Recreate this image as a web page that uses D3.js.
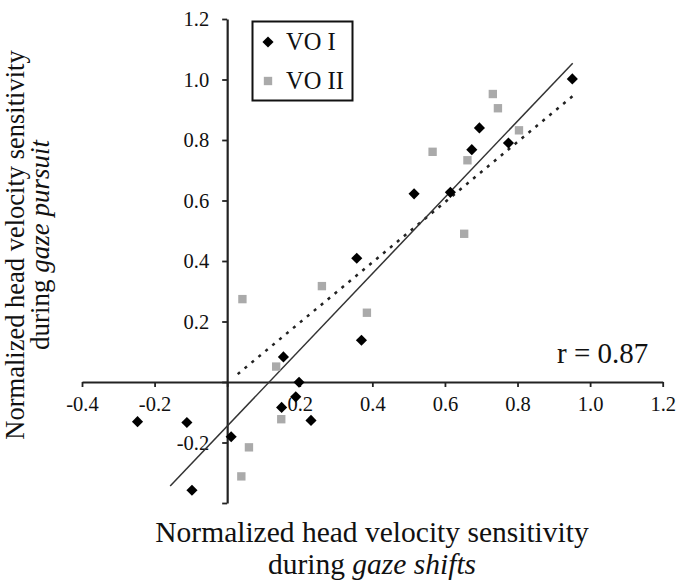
<!DOCTYPE html>
<html>
<head>
<meta charset="utf-8">
<script src="https://cdn.jsdelivr.net/npm/d3@7"></script>
<style>
  html, body { margin: 0; padding: 0; background: #fff; }
  svg { display: block; }
  text { font-family: "Liberation Serif", "Times New Roman", serif; fill: #111; }
</style>
</head>
<body>
<svg id="chart" width="681" height="585"></svg>
<script>
// ---- Data ----
const voIX = [0.951, 0.695, 0.775, 0.674, 0.515, 0.615, 0.357, 0.370, 0.155, 0.198, 0.189, 0.150, 0.231, -0.247, -0.111, 0.011, -0.097];
const voIY = [1.002, 0.840, 0.790, 0.768, 0.622, 0.627, 0.409, 0.138, 0.083, -0.001, -0.049, -0.084, -0.127, -0.131, -0.134, -0.181, -0.358];
const voIIX = [0.732, 0.746, 0.804, 0.662, 0.566, 0.653, 0.385, 0.261, 0.042, 0.135, 0.149, 0.060, 0.039];
const voIIY = [0.952, 0.905, 0.832, 0.733, 0.761, 0.490, 0.229, 0.317, 0.274, 0.051, -0.123, -0.216, -0.312];
const fitLineX = [-0.157, 0.952];
const fitLineY = [-0.344, 1.054];
const dottedLineX = [0.029, 0.963];
const dottedLineY = [0.026, 0.956];
const xTicks = [-0.4, -0.2, 0, 0.2, 0.4, 0.6, 0.8, 1.0, 1.2];
const yTicks = [-0.4, -0.2, 0, 0.2, 0.4, 0.6, 0.8, 1.0, 1.2];
const xTickLabels = ["-0.4", "-0.2", "", "0.2", "0.4", "0.6", "0.8", "1.0", "1.2"];
const yTickLabels = ["", "-0.2", "", "0.2", "0.4", "0.6", "0.8", "1.0", "1.2"];
const legendLabels = ["VO I", "VO II"];
const rLabel = "r = 0.87";

// ---- Scales ----
const svg = d3.select("#chart");
const x = d3.scaleLinear().domain([-0.4, 1.2]).range([82, 662.7]);
const y = d3.scaleLinear().domain([-0.4, 1.2]).range([503, 19]);

// ---- Axes (crossing at origin) ----
const xAxis = d3.axisBottom(x).tickValues(xTicks)
  .tickFormat((d, i) => xTickLabels[i]).tickSize(5).tickPadding(9).tickSizeOuter(0);
const gx = svg.append("g").attr("transform", `translate(0,${y(0)})`).call(xAxis);
gx.select(".domain").attr("stroke", "#222").attr("stroke-width", 2.2);
gx.selectAll(".tick line").attr("stroke", "#222").attr("stroke-width", 1.8);
gx.selectAll(".tick text").attr("font-size", 20.5).attr("font-family", "Liberation Serif").attr("fill", "#111");

const yAxis = d3.axisLeft(y).tickValues(yTicks)
  .tickFormat((d, i) => yTickLabels[i]).tickSize(5).tickPadding(13).tickSizeOuter(0);
const gy = svg.append("g").attr("transform", `translate(${x(0)},0)`).call(yAxis);
gy.select(".domain").attr("stroke", "#222").attr("stroke-width", 2.2);
gy.selectAll(".tick line").attr("stroke", "#222").attr("stroke-width", 1.8);
gy.selectAll(".tick text").attr("font-size", 20.5).attr("font-family", "Liberation Serif").attr("fill", "#111");

// ---- Lines ----
const line = d3.line().x(d => x(d[0])).y(d => y(d[1]));
svg.append("path")
  .datum(dottedLineX.map((v, i) => [v, dottedLineY[i]]))
  .attr("d", line).attr("fill", "none").attr("stroke", "#222")
  .attr("stroke-width", 2.5).attr("stroke-dasharray", "3,6");
svg.append("path")
  .datum(fitLineX.map((v, i) => [v, fitLineY[i]]))
  .attr("d", line).attr("fill", "none").attr("stroke", "#333").attr("stroke-width", 1.5);

// ---- Points ----
const diamond = d3.symbol().type(d3.symbolSquare).size(62);
const square = d3.symbol().type(d3.symbolSquare).size(70);

svg.append("g").selectAll("path")
  .data(voIIX.map((v, i) => [v, voIIY[i]]))
  .join("path")
  .attr("d", square)
  .attr("transform", d => `translate(${x(d[0])},${y(d[1])})`)
  .attr("fill", "#aaaaaa");

svg.append("g").selectAll("path")
  .data(voIX.map((v, i) => [v, voIY[i]]))
  .join("path")
  .attr("d", diamond)
  .attr("transform", d => `translate(${x(d[0])},${y(d[1])}) rotate(45)`)
  .attr("fill", "#000");

// ---- r label ----
svg.append("text").attr("x", 557).attr("y", 363)
  .attr("font-size", 29).text(rLabel);

// ---- Legend ----
const lg = svg.append("g");
lg.append("rect").attr("x", 252.5).attr("y", 21.5).attr("width", 100).attr("height", 79)
  .attr("fill", "#fff").attr("stroke", "#111").attr("stroke-width", 2);
lg.append("path").attr("d", diamond).attr("transform", "translate(268,42) rotate(45)").attr("fill", "#000");
lg.append("path").attr("d", square).attr("transform", "translate(268,81)").attr("fill", "#aaaaaa");
lg.append("text").attr("x", 286).attr("y", 50).attr("font-size", 24.5).text(legendLabels[0]);
lg.append("text").attr("x", 286).attr("y", 89).attr("font-size", 24.5).text(legendLabels[1]);

// ---- Axis titles ----
const xt = svg.append("text").attr("text-anchor", "middle").attr("font-size", 29.5);
xt.append("tspan").attr("x", 372).attr("y", 542).text("Normalized head velocity sensitivity");
const xt2 = xt.append("tspan").attr("x", 372).attr("y", 574);
xt2.append("tspan").text("during ");
xt2.append("tspan").attr("font-style", "italic").text("gaze shifts");

const yt = svg.append("text").attr("text-anchor", "middle").attr("font-size", 26.5)
  .attr("transform", "translate(0,245) rotate(-90)");
yt.append("tspan").attr("x", 0).attr("y", 23.5).text("Normalized head velocity sensitivity");
const yt2 = yt.append("tspan").attr("x", 0).attr("y", 49).attr("font-size", 27);
yt2.append("tspan").text("during ");
yt2.append("tspan").attr("font-style", "italic").text("gaze pursuit");
</script>
</body>
</html>
